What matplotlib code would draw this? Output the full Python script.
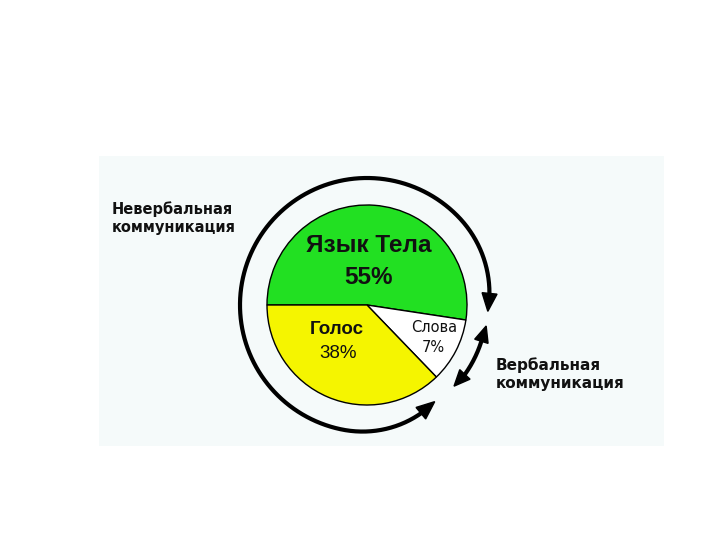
import numpy as np
import matplotlib
matplotlib.use("Agg")
import matplotlib.pyplot as plt
from matplotlib.patches import Rectangle, Polygon

# ---- data ----
slice_names = ["Язык Тела", "Слова", "Голос"]
percent_labels = ["55%", "7%", "38%"]
# wedge shares as drawn in the picture (green, white, yellow)
slice_shares = [52.4, 10.4, 37.2]
slice_colors = ["#22e022", "#ffffff", "#f5f500"]
group_labels = ["Невербальная\nкоммуникация", "Вербальная\nкоммуникация"]

W, H = 720, 540
fig = plt.figure(figsize=(7.2, 5.4), dpi=100)
ax = fig.add_axes([0, 0, 1, 1])
fig.patch.set_facecolor("white")

def Y(py):
    return H - py

cx, cy = 367, Y(305)
r = 100
ax.pie(slice_shares, colors=slice_colors, startangle=180, counterclock=False,
       center=(cx, cy), radius=r, frame=True,
       wedgeprops=dict(edgecolor="black", linewidth=1.0))
ax.set_xlim(0, W)
ax.set_ylim(0, H)
ax.set_aspect("equal")
ax.axis("off")

# panel
ax.add_patch(Rectangle((99, Y(446)), 565, 290, facecolor="#f5fafa", edgecolor="none", zorder=-1))

fam = ["Liberation Sans", "DejaVu Sans"]
dv = ["DejaVu Sans"]
ink = "#111111"
ax.text(369, Y(246), slice_names[0], ha="center", va="center", fontsize=17.5, fontweight="bold", family=fam, color=ink)
ax.text(369, Y(277), percent_labels[0], ha="center", va="center", fontsize=17.5, fontweight="bold", family=fam, color=ink)
ax.text(337, Y(330), slice_names[2], ha="center", va="center", fontsize=13.5, fontweight="bold", family=fam, color=ink)
ax.text(338, Y(353), percent_labels[2], ha="center", va="center", fontsize=13.5, family=fam, color=ink)
ax.text(434, Y(327), slice_names[1], ha="center", va="center", fontsize=10.5, family=dv, color=ink)
ax.text(433, Y(348), percent_labels[1], ha="center", va="center", fontsize=10.5, family=dv, color=ink)

ax.text(112, Y(218), group_labels[0], ha="left", va="center", fontsize=10.5, fontweight="bold",
        family=dv, linespacing=1.2, color=ink)
ax.text(496, Y(374), group_labels[1], ha="left", va="center", fontsize=11, fontweight="bold",
        family=dv, linespacing=1.2, color=ink)

# curved arrows
def arc_arrow(a_start, a_end, r_mid, r_start, r_end, lw=3.0, head_len=18, head_w=15):
    t_deg = np.linspace(a_start, a_end, 400)
    u = np.linspace(0, 1, 400)
    w1 = np.clip(1 - u / 0.15, 0, 1) ** 2
    w2 = np.clip((u - 0.85) / 0.15, 0, 1) ** 2
    rr = r_mid + (r_start - r_mid) * w1 + (r_end - r_mid) * w2
    t = np.radians(t_deg)
    xs = cx + rr * np.cos(t)
    ys = cy + rr * np.sin(t)
    d = np.concatenate([[0], np.cumsum(np.hypot(np.diff(xs), np.diff(ys)))])
    keep = (d > head_len * 0.6) & (d < d[-1] - head_len * 0.6)
    ax.plot(xs[keep], ys[keep], color="black", lw=lw, solid_capstyle="butt", zorder=5)
    for idx in (-1, 0):
        tip = np.array([xs[idx], ys[idx]])
        # use the point one head-length back along the path for direction
        if idx == -1:
            j = np.searchsorted(d, d[-1] - head_len)
        else:
            j = np.searchsorted(d, head_len)
        back = np.array([xs[j], ys[j]])
        tang = tip - back
        tang /= np.hypot(*tang)
        nrm = np.array([tang[1], -tang[0]])
        base = tip - tang * head_len
        pts = [tip, base + nrm * head_w / 2, base - nrm * head_w / 2]
        ax.add_patch(Polygon(pts, closed=True, facecolor="black", edgecolor="black", zorder=6))

arc_arrow(-55, -363, 127, 118, 121)
arc_arrow(-10, -43, 120, 121, 119, head_len=16, head_w=14)

fig.savefig("out.png", dpi=100, facecolor="white")
